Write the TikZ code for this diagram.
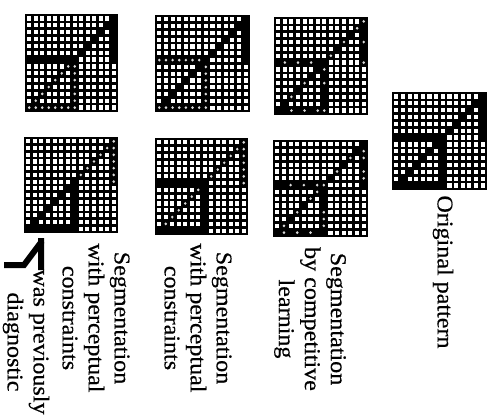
\documentclass[tikz,border=0pt]{standalone}
\usepackage{fontspec}
\newfontfamily\capfont[FakeStretch=1.07,FakeBold=0.5]{Liberation Serif}
\def\UD{14/1,13/2,12/3,11/4,10/5,9/6,8/7}
\def\LD{7/8,6/9,5/10,4/11,3/12,2/13,1/14}
\def\RR{14/1,14/2,14/3,14/4,14/5,14/6,14/7}
\def\HH{1/7,2/7,3/7,4/7,5/7,6/7,7/7,8/7}
\def\VV{8/8,8/9,8/10,8/11,8/12,8/13,8/14}
\def\BB{1/14,2/14,3/14,4/14,5/14,6/14,7/14,8/14}
\tikzset{
  ink/.style={fill=black,draw=none},
  sq/.style={fill=white,draw=none},
  speck/.style={fill=white!85!black,draw=none},
  caption/.style={rotate=-90,align=center,inner sep=0pt,font=\capfont\fontsize{22.5}{26}\selectfont},
  glyphline/.style={draw=black,line width=6pt,line join=miter}
}
\newcommand{\gridpanel}[4]{%
  \def\px{#1}\def\py{#2}\def\pw{#3}\def\ph{#4}%
  \pgfmathsetmacro\cw{(\pw-2)/14}\pgfmathsetmacro\ch{(\ph-2)/14}%
  \fill[ink] (\px,\py) rectangle ++(\pw,\ph);
  \foreach \c in {1,...,14}{\foreach \r in {1,...,14}{%
    \pgfmathsetmacro\cx{\px+1+(\c-.5)*\cw}\pgfmathsetmacro\cy{\py+1+(\r-.5)*\ch}%
    \fill[sq] (\cx-2.05,\cy-2.1) rectangle (\cx+2.05,\cy+2.1);}}%
}
\newcommand{\blk}[1]{%
  \edef\tmplist{#1}%
  \foreach \c/\r in \tmplist{%
    \pgfmathsetmacro\cx{\px+1+(\c-.5)*\cw}\pgfmathsetmacro\cy{\py+1+(\r-.5)*\ch}%
    \fill[ink] (\cx-.5*\cw-.1,\cy-.5*\ch-.1) rectangle (\cx+.5*\cw+.1,\cy+.5*\ch+.1);}%
}
\newcommand{\fnt}[1]{%
  \edef\tmplist{#1}%
  \foreach \c/\r in \tmplist{%
    \pgfmathsetmacro\cx{\px+1+(\c-.5)*\cw}\pgfmathsetmacro\cy{\py+1+(\r-.5)*\ch}%
    \fill[ink] (\cx-.5*\cw-.1,\cy-.5*\ch-.1) rectangle (\cx+.5*\cw+.1,\cy+.5*\ch+.1);
    \fill[speck] (\cx-1.4,\cy) -- (\cx,\cy-1.5) -- (\cx+1.4,\cy) -- (\cx,\cy+1.5) -- cycle;}%
}
\begin{document}
\begin{tikzpicture}[x=1pt,y=-1pt]
\useasboundingbox (0,0) rectangle (491,416);
% top left
\gridpanel{25}{14}{93}{98}
\blk{\UD,\RR,\HH}\fnt{\VV,\BB,\LD}
% bottom left
\gridpanel{24}{137}{94}{96}
\blk{\LD,\VV,\BB,8/7}\fnt{14/1,13/2,12/3,11/4,10/5,9/6,\RR}
% top middle
\gridpanel{155}{15}{95}{97}
\blk{\UD,\RR,\LD}\fnt{\HH,\VV,\BB}\blk{8/7}
% bottom middle
\gridpanel{155}{138}{93}{97}
\blk{\HH,\VV,\BB}\fnt{14/1,13/2,12/3,11/4,10/5,9/6,\RR,7/8,6/9,5/10,4/11,3/12,2/13}
% top right
\gridpanel{274}{17}{94}{98}
\blk{\HH,\VV,\BB,\UD,\RR,\LD}
\fnt{14/1,13/2,14/4,11/4,9/6,14/7,2/7,4/7,6/7,8/8,5/10,8/10,3/12,3/14,5/14,7/14,8/14}
% bottom right
\gridpanel{273}{140}{95}{97}
\blk{\HH,\VV,\BB,\UD,\RR,\LD}
\fnt{14/2,14/3,12/3,10/5,14/5,14/6,3/7,5/7,7/7,8/7,7/8,6/9,4/11,2/13,8/11,8/12,8/13,2/14,4/14,6/14}
% original
\gridpanel{392}{92}{95}{98}
\blk{\UD,\RR,\HH,\VV,\BB,\LD}
% captions
\node[caption] (orig) at (443,272) {Original pattern};
\node[caption] (comp) at (310,319) {Segmentation\\by competitive\\learning};
\node[caption] (perc2) at (198,318) {Segmentation\\with perceptual\\constraints};
\node[caption] (perc1) at (96,318) {Segmentation\\with perceptual\\constraints};
\node[caption] (diag) at (26,342) {was previously\\diagnostic};
% diagnostic glyph
\draw[glyphline] (4,265) -- (24,265) -- (42,241) (41,238) -- (41,270);
\end{tikzpicture}
\end{document}
